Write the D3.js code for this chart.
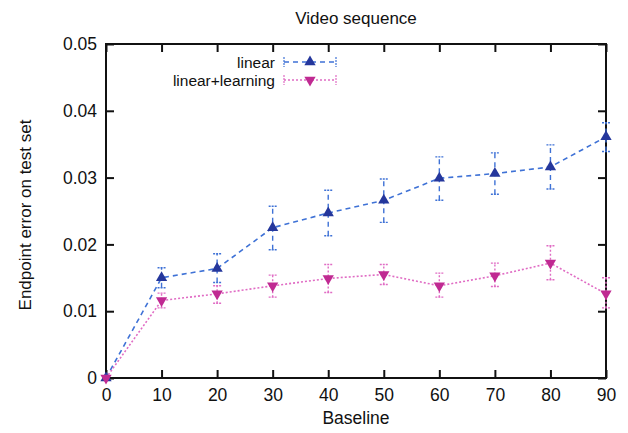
<!DOCTYPE html>
<html>
<head>
<meta charset="utf-8">
<script src="https://d3js.org/d3.v7.min.js"></script>
<style>
  body { margin: 0; background: #fff; }
  text { font-family: "Liberation Sans", Arial, sans-serif; fill: #111; }
</style>
</head>
<body>
<div id="chart"></div>
<script>
// data
var baseline = [0, 10, 20, 30, 40, 50, 60, 70, 80, 90];
var linearMean = [0, 0.0150, 0.0164, 0.0225, 0.0247, 0.0266, 0.0299, 0.0306, 0.0316, 0.0361];
var linearLow  = [0, 0.0135, 0.0143, 0.0192, 0.0213, 0.0233, 0.0266, 0.0275, 0.0283, 0.0339];
var linearHigh = [0, 0.0165, 0.0186, 0.0257, 0.0281, 0.0298, 0.0331, 0.0337, 0.0349, 0.0382];
var learnMean  = [0, 0.0116, 0.0126, 0.0138, 0.0149, 0.0155, 0.0138, 0.0153, 0.0172, 0.0126];
var learnLow   = [0, 0.0105, 0.0112, 0.0121, 0.0128, 0.0140, 0.0121, 0.0137, 0.0147, 0.0105];
var learnHigh  = [0, 0.0127, 0.0138, 0.0154, 0.0170, 0.0170, 0.0157, 0.0172, 0.0198, 0.0150];
var xTicks = [0, 10, 20, 30, 40, 50, 60, 70, 80, 90];
var yTicks = [0, 0.01, 0.02, 0.03, 0.04, 0.05];

var W = 628, H = 433;
var margin = {top: 44, right: 22, bottom: 55, left: 106};
var width = W - margin.left - margin.right,
    height = H - margin.top - margin.bottom;

var svg = d3.select("#chart").append("svg")
    .attr("width", W).attr("height", H);
var g = svg.append("g")
    .attr("transform", "translate(" + margin.left + "," + margin.top + ")");

var x = d3.scaleLinear().domain([0, 90]).range([0, width]);
var y = d3.scaleLinear().domain([0, 0.05]).range([height, 0]);

var fmtY = function(d) { return d === 0 ? "0" : d3.format(".2f")(d); };

// axes with inward ticks, mirrored on top and right
var xAxis = g.append("g").attr("transform", "translate(0," + height + ")")
  .call(d3.axisBottom(x).tickValues(xTicks).tickSizeInner(-8).tickSizeOuter(0).tickPadding(11));
var xTop = g.append("g")
  .call(d3.axisTop(x).tickValues(xTicks).tickSizeInner(-8).tickSizeOuter(0).tickFormat(""));
var yAxis = g.append("g")
  .call(d3.axisLeft(y).tickValues(yTicks).tickSizeInner(-8).tickSizeOuter(0).tickPadding(9).tickFormat(fmtY));
var yRight = g.append("g").attr("transform", "translate(" + width + ",0)")
  .call(d3.axisRight(y).tickValues(yTicks).tickSizeInner(-8).tickSizeOuter(0).tickFormat(""));

[xAxis, xTop, yAxis, yRight].forEach(function(a) {
  a.select(".domain").remove();
  a.selectAll("line").attr("stroke", "#111").attr("stroke-width", 2);
  a.selectAll("text").style("font-size", "17.5px").attr("fill", "#111");
});

g.append("rect").attr("width", width).attr("height", height)
  .attr("fill", "none").attr("stroke", "#111").attr("stroke-width", 2);

// titles
svg.append("text").attr("x", 356).attr("y", 24).attr("text-anchor", "middle")
  .style("font-size", "17px").text("Video sequence");
svg.append("text").attr("x", margin.left + width / 2).attr("y", H - 9)
  .attr("text-anchor", "middle").style("font-size", "17.5px").text("Baseline");
svg.append("text")
  .attr("transform", "translate(31," + (margin.top + height / 2 + 4) + ") rotate(-90)")
  .attr("text-anchor", "middle").style("font-size", "17px").text("Endpoint error on test set");

var series = [
  {name: "linear", mean: linearMean, low: linearLow, high: linearHigh,
   line: "#3f72d6", mark: "#25379c", dash: "5,4", up: true},
  {name: "linear+learning", mean: learnMean, low: learnLow, high: learnHigh,
   line: "#e06cc4", mark: "#c02a92", dash: "2,2", up: false}
];

var tri = d3.symbol().type(d3.symbolTriangle).size(55);

series.forEach(function(s) {
  var pts = baseline.map(function(b, i) {
    return {x: b, m: s.mean[i], lo: s.low[i], hi: s.high[i]};
  });
  var sg = g.append("g");
  sg.append("path").datum(pts)
    .attr("d", d3.line().x(function(d) { return x(d.x); }).y(function(d) { return y(d.m); }))
    .attr("fill", "none").attr("stroke", s.line).attr("stroke-width", 1.6)
    .attr("stroke-dasharray", s.dash);
  var eb = sg.selectAll(".eb").data(pts.filter(function(d) { return d.hi > d.lo; }))
    .enter().append("g").attr("stroke", s.line).attr("stroke-width", 1.4)
    .attr("stroke-dasharray", s.dash);
  eb.append("line").attr("x1", function(d) { return x(d.x); }).attr("x2", function(d) { return x(d.x); })
    .attr("y1", function(d) { return y(d.lo); }).attr("y2", function(d) { return y(d.hi); });
  eb.append("line").attr("x1", function(d) { return x(d.x) - 4; }).attr("x2", function(d) { return x(d.x) + 4; })
    .attr("y1", function(d) { return y(d.lo); }).attr("y2", function(d) { return y(d.lo); })
    .attr("stroke-dasharray", "2,1");
  eb.append("line").attr("x1", function(d) { return x(d.x) - 4; }).attr("x2", function(d) { return x(d.x) + 4; })
    .attr("y1", function(d) { return y(d.hi); }).attr("y2", function(d) { return y(d.hi); })
    .attr("stroke-dasharray", "2,1");
  sg.selectAll(".mk").data(pts).enter().append("path")
    .attr("d", tri)
    .attr("transform", function(d) {
      return "translate(" + x(d.x) + "," + y(d.m) + ")" + (s.up ? "" : " rotate(180)");
    })
    .attr("fill", s.mark);
});

// legend
var leg = g.append("g");
series.forEach(function(s, i) {
  var ly = 18 + i * 18;
  leg.append("text").attr("x", 169).attr("y", ly + 5.5).attr("text-anchor", "end")
    .style("font-size", "15.5px").text(s.name);
  leg.append("line").attr("x1", 178).attr("x2", 230).attr("y1", ly).attr("y2", ly)
    .attr("stroke", s.line).attr("stroke-width", 1.4).attr("stroke-dasharray", s.dash);
  [178, 230].forEach(function(xx) {
    leg.append("line").attr("x1", xx).attr("x2", xx).attr("y1", ly - 5).attr("y2", ly + 5)
      .attr("stroke", s.line).attr("stroke-width", 1.2).attr("stroke-dasharray", "2,1");
  });
  leg.append("path").attr("d", tri)
    .attr("transform", "translate(204," + ly + ")" + (s.up ? "" : " rotate(180)"))
    .attr("fill", s.mark);
});
</script>
</body>
</html>
